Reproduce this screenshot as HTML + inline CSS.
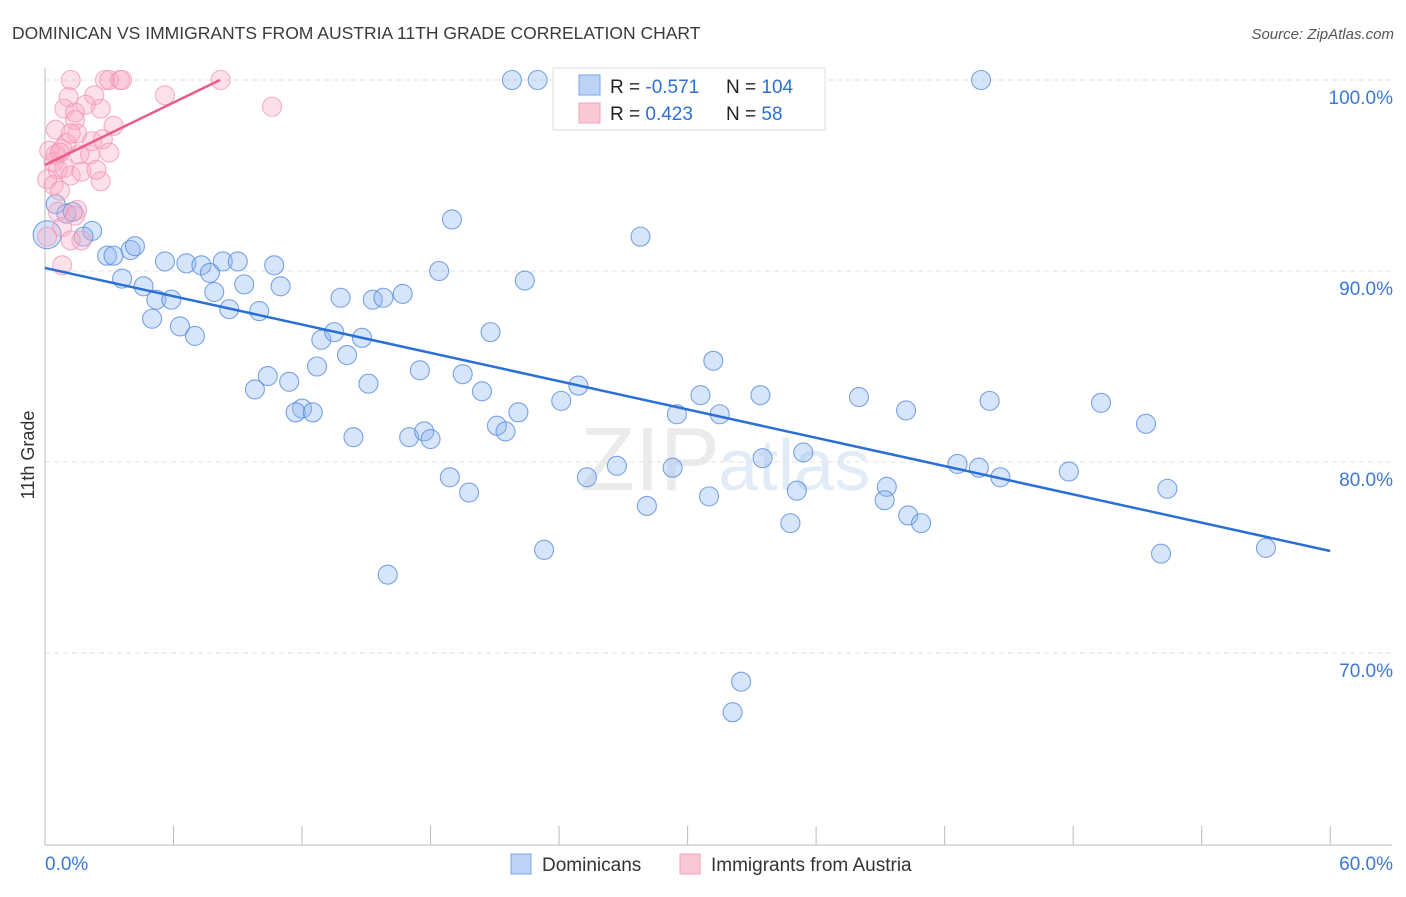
<!DOCTYPE html>
<html><head><meta charset="utf-8"><style>
body{margin:0;background:#fff;font-family:"Liberation Sans",sans-serif;}
svg text{font-family:"Liberation Sans",sans-serif;}
</style></head><body>
<svg id="chart" width="1406" height="892">
<text x="12" y="39" font-size="17.5" fill="#3a3a3a">DOMINICAN VS IMMIGRANTS FROM AUSTRIA 11TH GRADE CORRELATION CHART</text>
<text x="1394" y="39" font-size="15" fill="#555" font-style="italic" text-anchor="end">Source: ZipAtlas.com</text>
<text x="720" y="490" font-size="90" fill="#ebebeb" text-anchor="end" font-family="Liberation Serif">ZIP</text>
<text x="718" y="490" font-size="72" fill="#e2ecf8">atlas</text>
<g id="grid"></g><g id="axes"></g><g id="pts"></g><g id="lines"></g>
<text transform="translate(34,455) rotate(-90)" font-size="18" fill="#333" text-anchor="middle">11th Grade</text>
<g>
<rect x="553" y="68" width="272" height="62" fill="#fff" stroke="#ddd"/>
<rect x="579" y="75" width="21" height="20" fill="#bcd3f5" stroke="#7aa6e6"/>
<rect x="579" y="103" width="21" height="20" fill="#fbc8d6" stroke="#f0a0b8"/>
<text x="610" y="93" font-size="19" fill="#222">R = <tspan fill="#2e6fd6">-0.571</tspan></text>
<text x="726" y="93" font-size="19" fill="#222">N = <tspan fill="#2e6fd6">104</tspan></text>
<text x="610" y="120" font-size="19" fill="#222">R = <tspan fill="#2e6fd6"> 0.423</tspan></text>
<text x="726" y="120" font-size="19" fill="#222">N = <tspan fill="#2e6fd6">  58</tspan></text>
</g>
<g><rect x="511" y="854" width="20" height="20" fill="#bcd3f5" stroke="#7aa6e6"/><text x="542" y="871" font-size="19" fill="#333">Dominicans</text></g>
<g><rect x="680" y="854" width="20" height="20" fill="#fbc8d6" stroke="#f0a0b8"/><text x="711" y="871" font-size="19" fill="#333">Immigrants from Austria</text></g>
</svg>
<script>
const blueX=[21.8,23.0,25.8,43.7,0.5,1.0,1.3,2.2,1.8,2.9,3.2,4.0,4.2,3.6,4.6,5.2,5.9,5.0,5.6,6.6,7.3,7.7,6.3,7.0,7.9,8.3,9.0,8.6,9.3,10.0,10.7,11.0,13.8,15.3,15.8,16.7,18.4,19.0,22.4,27.8,20.8,12.9,13.5,14.8,14.1,12.7,10.4,9.8,11.4,12.0,11.7,12.5,15.1,14.4,17.5,19.5,20.4,17.0,17.7,18.0,21.1,21.5,22.1,24.9,24.1,18.9,19.8,25.3,26.7,23.3,16.0,28.1,29.3,29.5,30.6,31.2,31.5,31.0,33.4,33.5,34.8,35.1,35.4,38.0,39.3,39.2,40.2,40.3,40.9,42.6,43.6,44.1,44.6,47.8,49.3,51.4,52.4,52.1,57.0,32.5,32.1,0.1];
const blueY=[100,100,100,100,93.5,93.0,93.1,92.1,91.8,90.8,90.8,91.1,91.3,89.6,89.2,88.5,88.5,87.5,90.5,90.4,90.3,89.9,87.1,86.6,88.9,90.5,90.5,88.0,89.3,87.9,90.3,89.2,88.6,88.5,88.6,88.8,90.0,92.7,89.5,91.8,86.8,86.4,86.8,86.5,85.6,85.0,84.5,83.8,84.2,82.8,82.6,82.6,84.1,81.3,84.8,84.6,83.7,81.3,81.6,81.2,81.9,81.6,82.6,84.0,83.2,79.2,78.4,79.2,79.8,75.4,74.1,77.7,79.7,82.5,83.5,85.3,82.5,78.2,83.5,80.2,76.8,78.5,80.5,83.4,78.7,78.0,82.7,77.2,76.8,79.9,79.7,83.2,79.2,79.5,83.1,82.0,78.6,75.2,75.5,68.5,66.9,91.9];
const pinkX=[1.2,2.8,3.0,3.5,3.6,8.2,5.6,10.6,0.9,1.4,2.6,2.3,1.1,1.9,1.4,0.5,1.0,1.5,2.2,2.7,3.2,3.0,0.5,0.4,0.8,0.6,0.9,1.2,0.1,0.4,1.7,2.6,1.5,0.6,0.8,1.7,1.2,0.1,0.8,0.2,0.7,2.1,2.4,1.2,1.6,1.4,0.7];
const pinkY=[100,100,100,100,100,100,99.2,98.6,98.5,98.3,98.5,99.2,99.1,98.7,97.9,97.4,96.7,97.2,96.8,96.9,97.6,96.2,96.1,95.7,96.4,95.3,95.4,95.0,94.8,94.5,95.2,94.7,93.2,93.1,92.3,91.6,91.6,91.8,90.3,96.3,96.2,96.1,95.3,97.2,96.1,92.9,94.2];
const blueLine=[[0,90.16],[60,75.34]];
const pinkLine=[[0,95.55],[8.17,100]];
const yTicks=[100,90,80,70];
const xTicks=[0,6,12,18,24,30,36,42,48,54,60];
const NS='http://www.w3.org/2000/svg';
const sx=v=>45+v*21.42, sy=v=>80+(100-v)*19.1;
function mk(t,a,p){const e=document.createElementNS(NS,t);for(const k in a)e.setAttribute(k,a[k]);p.appendChild(e);return e;}
const grid=document.getElementById('grid'),axes=document.getElementById('axes'),pts=document.getElementById('pts'),lines=document.getElementById('lines');
yTicks.forEach(v=>{
 const l=mk('line',{x1:45,x2:1392,y1:sy(v),y2:sy(v),stroke:'#e0e0e0','stroke-dasharray':'5,4'},grid);
 
 
 const t=mk('text',{x:1393,y:sy(v)+24,'font-size':19,fill:'#3a78d8','text-anchor':'end'},grid);
 t.textContent=v.toFixed(1)+'%';
 
 
});
mk('line',{x1:45,x2:45,y1:68,y2:845,stroke:'#bbb'},axes);
mk('line',{x1:45,x2:1392,y1:845,y2:845,stroke:'#bbb'},axes);
xTicks.forEach(v=>{
 const l=mk('line',{x1:sx(v),x2:sx(v),y1:826,y2:845,stroke:'#bbb'},axes);
 
 
});
[[0,'0.0%','start',45],[60,'60.0%','end',1393]].forEach(d=>{
 const t=mk('text',{x:d[3],y:870,'font-size':19,fill:'#3a78d8','text-anchor':d[2]},axes);
 t.textContent=d[1];
 
 
});
blueX.forEach((x,i)=>{
 const c=mk('circle',{cx:sx(x),cy:sy(blueY[i]),r:i===blueX.length-1?14:9.5,fill:'rgba(140,180,240,0.35)',stroke:'rgba(80,135,220,0.75)','stroke-width':1.1},pts);
 
 
});
pinkX.forEach((x,i)=>{
 const c=mk('circle',{cx:sx(x),cy:sy(pinkY[i]),r:9.5,fill:'rgba(248,170,195,0.35)',stroke:'rgba(240,150,180,0.75)','stroke-width':1.1},pts);
 
 
});
const bl=mk('line',{x1:sx(blueLine[0][0]),y1:sy(blueLine[0][1]),x2:sx(blueLine[1][0]),y2:sy(blueLine[1][1]),stroke:'#2a6fd6','stroke-width':2.5},lines);


const pl=mk('line',{x1:sx(pinkLine[0][0]),y1:sy(pinkLine[0][1]),x2:sx(pinkLine[1][0]),y2:sy(pinkLine[1][1]),stroke:'#ea5c86','stroke-width':2.5},lines);


</script>
</body></html>
